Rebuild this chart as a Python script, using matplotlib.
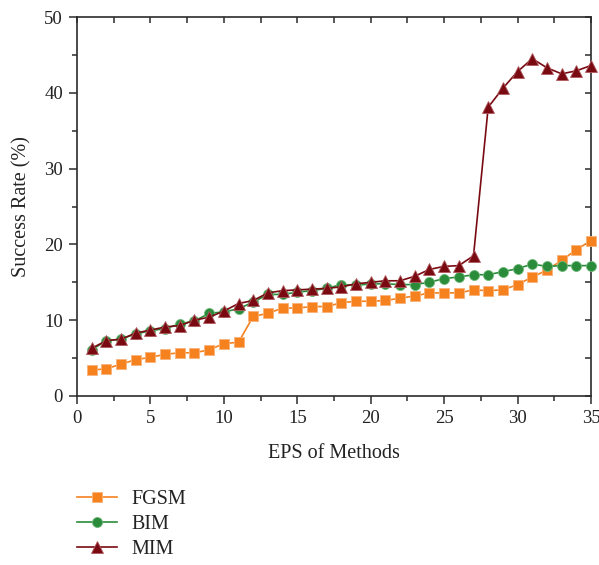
import matplotlib
matplotlib.use("Agg")
import matplotlib.pyplot as plt
from matplotlib.ticker import MultipleLocator

plt.rcParams['font.family'] = ['Liberation Serif', 'DejaVu Serif']

eps = list(range(1, 36))

fgsm = [3.4, 3.6, 4.2, 4.8, 5.1, 5.5, 5.7, 5.7, 6.1, 6.9,
        7.1, 10.5, 10.9, 11.6, 11.6, 11.8, 11.8, 12.3, 12.5, 12.5,
        12.6, 12.9, 13.2, 13.6, 13.6, 13.6, 14.0, 13.9, 14.0, 14.7,
        15.7, 16.6, 17.9, 19.3, 20.5]

bim = [6.1, 7.3, 7.5, 8.2, 8.6, 8.9, 9.5, 9.9, 10.9, 11.1,
       11.5, 12.4, 13.4, 13.4, 13.7, 13.9, 14.2, 14.7, 14.6, 14.8,
       14.8, 14.7, 14.7, 15.0, 15.5, 15.7, 16.0, 16.0, 16.4, 16.8,
       17.4, 17.1, 17.2, 17.2, 17.2]

mim = [6.3, 7.3, 7.5, 8.3, 8.7, 9.1, 9.3, 10.0, 10.4, 11.2,
       12.2, 12.6, 13.6, 13.9, 14.0, 14.1, 14.2, 14.4, 14.8, 15.0,
       15.2, 15.2, 15.8, 16.7, 17.1, 17.2, 18.5, 38.1, 40.6, 42.8,
       44.5, 43.3, 42.5, 42.9, 43.6]

series = [
    ("FGSM", fgsm, "#F5821F", "#F9B27A", "s", 6.5),
    ("BIM", bim, "#2A8C3A", "#6FB87A", "o", 7.2),
    ("MIM", mim, "#7A0A12", "#B05A60", "^", 8.0),
]

fig = plt.figure(figsize=(5.99, 5.65), dpi=100)
ax = fig.add_axes([77 / 599, 1 - 396 / 565, (591 - 77) / 599, (396 - 17) / 565])

for name, vals, col, edge, mk, ms in series:
    ax.plot(eps, vals, color=col, lw=1.2, marker=mk, ms=ms,
            mfc=col, mec=edge, mew=0.6, label=name, clip_on=False, zorder=3)

ax.set_xlim(0, 35)
ax.set_ylim(0, 50)
ax.xaxis.set_major_locator(MultipleLocator(5))
ax.xaxis.set_minor_locator(MultipleLocator(2.5))
ax.yaxis.set_major_locator(MultipleLocator(10))
ax.yaxis.set_minor_locator(MultipleLocator(5))

spine_col = "#2b2b2b"
for s in ax.spines.values():
    s.set_color(spine_col)
    s.set_linewidth(1.2)

ax.tick_params(which='major', direction='out', length=6, width=1.1,
               color=spine_col, labelsize=13.5, labelcolor="#222222", pad=4)
ax.tick_params(which='minor', direction='out', length=3.5, width=1.1,
               color=spine_col)

# inward ticks along the top and right frame edges
top = ax.secondary_xaxis('top')
top.set_xticks([i * 2.5 for i in range(15)])
top.tick_params(direction='in', length=4, width=1.1, color=spine_col, labeltop=False)
top.spines['top'].set_visible(False)
right = ax.secondary_yaxis('right')
right.set_yticks([i * 5 for i in range(11)])
right.tick_params(direction='in', length=4, width=1.1, color=spine_col, labelright=False)
right.spines['right'].set_visible(False)

ax.set_xlabel("EPS of Methods", fontsize=14.5, color="#222222", labelpad=12)
ax.set_ylabel("Success Rate (%)", fontsize=14.5, color="#222222", labelpad=9)

fig.legend(loc='upper left', bbox_to_anchor=(77 / 599, 1 - 490 / 565),
           frameon=False, fontsize=14.5, handlelength=2.0, handletextpad=0.7,
           labelspacing=0.3, borderaxespad=0, borderpad=0,
           labelcolor="#222222")

fig.savefig("out.png", dpi=100)
